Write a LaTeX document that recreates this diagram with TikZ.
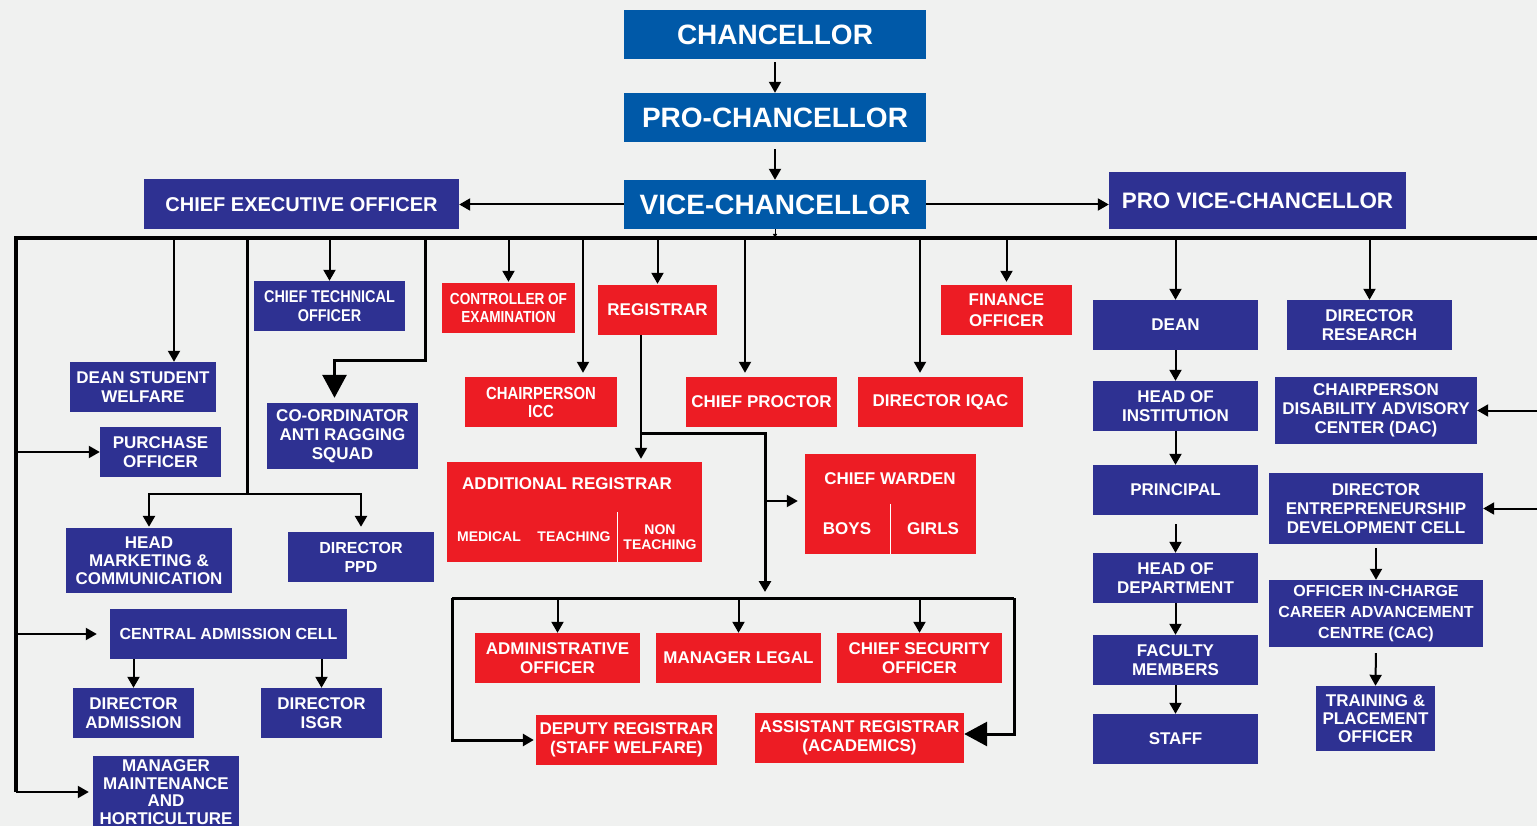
\documentclass[tikz,border=0pt]{standalone}
\usepackage{fontspec}
\setmainfont{Liberation Sans}
\newfontfamily\narrowsans{Liberation Sans}[FakeStretch=0.85]
\usetikzlibrary{arrows.meta,positioning}

\definecolor{navy}{HTML}{2E3192}
\definecolor{topblue}{HTML}{0059A8}
\definecolor{offred}{HTML}{ED1C24}
\definecolor{paper}{HTML}{F0F1F0}

\tikzset{
  fs/.style 2 args={font=\bfseries\fontsize{#1}{#2}\selectfont},
  nfs/.style 2 args={font=\narrowsans\bfseries\fontsize{#1}{#2}\selectfont},
  sz/.style 2 args={minimum width=#1pt, minimum height=#2pt},
  box/.style={inner sep=0pt, align=center, text=white, fs={17}{19}},
  navybox/.style={box, fill=navy},
  redbox/.style={box, fill=offred},
  topbox/.style={box, fill=topblue, sz={302}{49}, fs={28}{30}},
  sub/.style={inner sep=0pt, align=center, text=white, fs={17}{19}},
  tip/.tip={Triangle[length=11pt,width=12pt]},
  bigtip/.tip={Triangle[length=23pt,width=24pt]},
  arr/.style={line width=2pt, -tip},
  route/.style={line width=3pt},
  bus/.style={line width=3.5pt},
}

\begin{document}
\begin{tikzpicture}[x=1pt, y=-1pt]
\fill[paper] (0,0) rectangle (1537,826);
\useasboundingbox (0,0) rectangle (1537,826);

\node[topbox] (chan) at (775,34.5) {CHANCELLOR};
\node[topbox] (prochan) at (775,117.5) {PRO-CHANCELLOR};
\node[topbox] (vc) at (775,204.5) {VICE-CHANCELLOR};
\node[navybox, sz={297}{57}, fs={22.4}{24}] (pvc) at (1257.5,200.5) {PRO VICE-CHANCELLOR};
\node[navybox, sz={315}{50}, fs={20}{22}] (ceo) at (301.5,204.5) {CHIEF EXECUTIVE OFFICER};

\node[navybox, sz={146}{50}] (dsw) at (143,387) {DEAN STUDENT\\WELFARE};
\node[navybox, sz={121}{50}] (purch) at (160.5,452) {PURCHASE\\OFFICER};
\node[navybox, sz={151}{50}, nfs={17}{19}] (cto) at (329.5,306) {CHIEF TECHNICAL\\OFFICER};
\node[navybox, sz={151}{66}] (cars) at (342.5,436) {CO-ORDINATOR\\ANTI RAGGING\\SQUAD};
\node[navybox, sz={166}{65}, fs={17}{18}] (hmc) at (149,560.5) {HEAD\\MARKETING \&\\COMMUNICATION};
\node[navybox, sz={146}{50}, fs={16}{19}] (dppd) at (361,557) {DIRECTOR\\PPD};
\node[navybox, sz={237}{50}, fs={16}{19}] (cadm) at (228.5,634) {CENTRAL ADMISSION CELL};
\node[navybox, sz={121}{50}] (dadm) at (133.5,713) {DIRECTOR\\ADMISSION};
\node[navybox, sz={121}{50}] (disgr) at (321.5,713) {DIRECTOR\\ISGR};
\node[navybox, sz={146}{72}, fs={17}{17.5}] (mmh) at (166,792) {MANAGER\\MAINTENANCE\\AND\\HORTICULTURE};

\node[redbox, sz={133}{50}, nfs={16}{18}] (coe) at (508.5,308) {CONTROLLER OF\\EXAMINATION};
\node[redbox, sz={152}{50}, nfs={17.5}{18}] (icc) at (541,402) {CHAIRPERSON\\ICC};
\node[redbox, sz={119}{50}] (reg) at (657.5,310) {REGISTRAR};
\node[redbox, sz={151}{50}] (proctor) at (761.5,402) {CHIEF PROCTOR};
\node[redbox, sz={165}{50}] (iqac) at (940.5,402) {DIRECTOR IQAC};
\node[redbox, sz={131}{50}, fs={17}{21}] (fin) at (1006.5,310) {FINANCE\\OFFICER};

\node[redbox, sz={255}{100}] (addreg) at (574.5,512) {};
\node[sub, anchor=west] (addregt) at (462,484) {ADDITIONAL REGISTRAR};
\node[sub, fs={14}{15}] (med) at (489,537) {MEDICAL};
\node[sub, fs={14}{15}] (teach) at (574,537) {TEACHING};
\node[sub, fs={14}{15}] (nonteach) at (660,537.5) {NON\\TEACHING};
\draw[white, line width=1pt] (617,512) -- (617,562);

\node[redbox, sz={171}{100}] (warden) at (890.5,504) {};
\node[sub] (wardent) at (890,479) {CHIEF WARDEN};
\node[sub] (boys) at (847,529) {BOYS};
\node[sub] (girls) at (933,529) {GIRLS};
\draw[white, line width=1pt] (890,504) -- (890,554);

\node[redbox, sz={165}{50}] (admoff) at (557.5,658) {ADMINISTRATIVE\\OFFICER};
\node[redbox, sz={165}{50}] (legal) at (738.5,658) {MANAGER LEGAL};
\node[redbox, sz={165}{50}] (cso) at (919.5,658) {CHIEF SECURITY\\OFFICER};
\node[redbox, sz={181}{50}] (depreg) at (626.5,740) {DEPUTY REGISTRAR\\(STAFF WELFARE)};
\node[redbox, sz={209}{50}] (astreg) at (859.5,738) {ASSISTANT REGISTRAR\\(ACADEMICS)};

\node[navybox, sz={165}{50}] (dean) at (1175.5,325) {DEAN};
\node[navybox, sz={165}{50}] (dres) at (1369.5,325) {DIRECTOR\\RESEARCH};
\node[navybox, sz={165}{50}] (hoi) at (1175.5,406) {HEAD OF\\INSTITUTION};
\node[navybox, sz={165}{50}] (princ) at (1175.5,490) {PRINCIPAL};
\node[navybox, sz={165}{50}] (hod) at (1175.5,578) {HEAD OF\\DEPARTMENT};
\node[navybox, sz={165}{50}] (fac) at (1175.5,660) {FACULTY\\MEMBERS};
\node[navybox, sz={165}{50}] (staff) at (1175.5,739) {STAFF};
\node[navybox, sz={202}{67}] (dac) at (1376,410.5) {CHAIRPERSON\\DISABILITY ADVISORY\\CENTER (DAC)};
\node[navybox, sz={214}{71}] (edc) at (1376,508.5) {DIRECTOR\\ENTREPRENEURSHIP\\DEVELOPMENT CELL};
\node[navybox, sz={214}{67}, fs={16}{21}] (cacoff) at (1376,613.5) {OFFICER IN-CHARGE\\CAREER ADVANCEMENT\\CENTRE (CAC)};
\node[navybox, sz={119}{65}, fs={17}{18}] (tpo) at (1375.5,718.5) {TRAINING \&\\PLACEMENT\\OFFICER};

\coordinate (busL) at (16,238);
\coordinate (busR) at (1537,238);
\coordinate (mkt) at (247,494);
\coordinate (arsq) at (425,360);
\coordinate (rj) at (641,433);
\coordinate (wj) at (765,433);
\coordinate (brL) at (452,598);
\coordinate (brR) at (1014,598);

\draw[arr, shorten <=3pt] (chan.south) -- (prochan.north);
\draw[arr, shorten <=7pt] (prochan.south) -- (vc.north);
\draw[arr] (vc.east) -- (pvc.west |- vc.east);
\draw[arr] (vc.west) -- (vc.west -| ceo.east);
\draw[line width=1pt, -{Triangle[length=4pt,width=4pt]}] (vc.south) -- (vc.south |- busL);
\draw[bus] (busL |- mmh.west) -- (busL) -- (busR);

\draw[arr] (busL |- purch.west) -- (purch.west);
\draw[arr, shorten >=13pt] (busL |- cadm.west) -- (cadm.west);
\draw[arr, shorten >=4pt] (busL |- mmh.west) -- (mmh.west);
\draw[arr] ([xshift=31pt]dsw.north |- busL) -- ([xshift=31pt]dsw.north);
\draw[arr] (cto.north |- busL) -- (cto.north);
\draw[route] (mkt |- busL) -- (mkt);
\draw[line width=2.5pt, -tip, shorten >=1pt] (mkt) -| (hmc.north);
\draw[line width=2.5pt, -tip, shorten >=5pt] (mkt) -| (dppd.north);
\draw[route, -bigtip, shorten >=5pt] (arsq |- busL) -- (arsq) -| ([xshift=-8pt]cars.north);
\draw[arr] (dadm.north |- cadm.south) -- (dadm.north);
\draw[arr] (disgr.north |- cadm.south) -- (disgr.north);

\draw[arr, shorten >=1pt] (coe.north |- busL) -- (coe.north);
\draw[arr, shorten >=4pt] ([xshift=42pt]icc.north |- busL) -- ([xshift=42pt]icc.north);
\draw[arr, shorten >=1pt] (reg.north |- busL) -- (reg.north);
\draw[arr, shorten >=4pt] ([xshift=-16.5pt]proctor.north |- busL) -- ([xshift=-16.5pt]proctor.north);
\draw[arr, shorten >=4pt] ([xshift=-20.5pt]iqac.north |- busL) -- ([xshift=-20.5pt]iqac.north);
\draw[arr, shorten >=3pt] (fin.north |- busL) -- (fin.north);

\draw[line width=2pt] (rj |- reg.south) -- (rj);
\draw[arr, shorten >=3pt] (rj) -- (rj |- addreg.north);
\draw[route, -tip, shorten >=6pt] (rj) -- (wj) -- (wj |- brL);
\draw[arr, shorten >=7pt] (wj |- 0,501) -- ([yshift=3pt]warden.west);

\draw[route] (brL) -- (brR);
\draw[route, -tip, shorten >=2pt] (brL) |- (depreg.west);
\draw[route, -bigtip] (brR) |- ([yshift=4pt]astreg.east);
\draw[arr] (admoff.north |- brL) -- (admoff.north);
\draw[arr] (legal.north |- brL) -- (legal.north);
\draw[arr] (cso.north |- brL) -- (cso.north);

\draw[arr] (dean.north |- busL) -- (dean.north);
\draw[arr] (dres.north |- busL) -- (dres.north);
\draw[arr] (dean.south) -- (hoi.north);
\draw[arr] (hoi.south) -- (princ.north);
\draw[arr, shorten <=9pt] (princ.south) -- (hod.north);
\draw[arr] (hod.south) -- (fac.north);
\draw[arr] (fac.south) -- (staff.north);
\draw[arr] (busR |- dac.east) -- (dac.east);
\draw[arr] (busR |- edc.east) -- (edc.east);
\draw[arr, shorten <=4pt] (edc.south) -- (cacoff.north);
\draw[arr, shorten <=6pt] (cacoff.south) -- (tpo.north);
\end{tikzpicture}
\end{document}
